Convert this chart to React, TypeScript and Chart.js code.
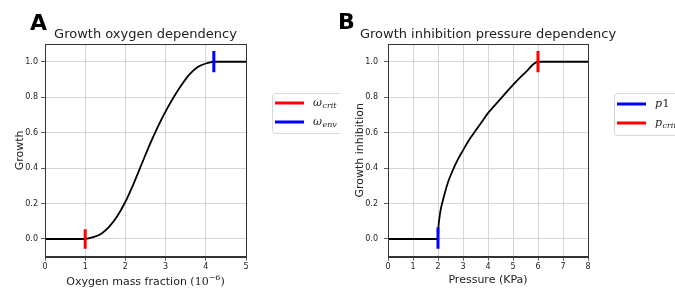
import { useEffect, useRef } from "react";
import { Chart, registerables } from "chart.js";

Chart.register(...registerables);

// ---- Panel A data: growth vs oxygen mass fraction (1e-6) ----
const oxygenX = [0, 0.5, 1.0, 1.2, 1.4, 1.6, 1.8, 2.0, 2.2, 2.4, 2.6, 2.8, 3.0, 3.2, 3.4, 3.6, 3.8, 4.0, 4.2, 4.6, 5.0];
const growthY = [0, 0, 0, 0.01, 0.03, 0.07, 0.13, 0.21, 0.31, 0.42, 0.53, 0.63, 0.72, 0.8, 0.87, 0.93, 0.97, 0.99, 1.0, 1.0, 1.0];
const oxygenTicks = [0, 1, 2, 3, 4, 5];
const omegaCritX = 1.0;
const omegaCritY = [-0.055, 0.055];
const omegaEnvX = 4.2;
const omegaEnvY = [0.94, 1.06];

// ---- Panel B data: growth inhibition vs pressure (KPa) ----
const pressureX = [0, 1, 2.0, 2.02, 2.05, 2.1, 2.2, 2.4, 2.6, 2.8, 3.0, 3.25, 3.5, 3.75, 4.0, 4.5, 5.0, 5.5, 6.0, 7.0, 8.0];
const inhibitionY = [0, 0, 0, 0.07, 0.11, 0.16, 0.22, 0.32, 0.39, 0.45, 0.5, 0.56, 0.61, 0.66, 0.71, 0.79, 0.87, 0.94, 1.0, 1.0, 1.0];
const pressureTicks = [0, 1, 2, 3, 4, 5, 6, 7, 8];
const p1X = 2.0;
const p1Y = [-0.055, 0.065];
const pCritX = 6.0;
const pCritY = [0.94, 1.06];

const yTicks = [0, 0.2, 0.4, 0.6, 0.8, 1.0];
const yRange = [-0.1, 1.1];

type LegendItem = { color: string; main: string; upright: string; sub: string };

type PanelProps = {
  width: number;
  letter: string;
  letterX: number;
  letterY: number;
  title: string;
  yTitle: string;
  xTitle: string;
  xTitleMath?: string;
  xMax: number;
  xTicks: number[];
  curveX: number[];
  curveY: number[];
  markers: { x: number; y: number[]; color: string }[];
  legend: LegendItem[];
  yAxisWidth: number;
  yTickPad: number;
  rightPad: number;
  legendBox: { x: number; y: number; w: number; h: number; lineX: number; textX: number; rows: number[] };
};

const TEXT = "#222";
const FRAME = "#333";
const SANS = "'DejaVu Sans', sans-serif";
const SERIF = "'DejaVu Serif', serif";

function Panel(props: PanelProps) {
  const ref = useRef<HTMLCanvasElement | null>(null);

  useEffect(() => {
    const canvas = ref.current;
    if (!canvas) return;

    const decor = {
      id: "decor",
      afterDraw(chart: any) {
        const { ctx, chartArea: a } = chart;
        ctx.save();
        // frame (top/right spines)
        ctx.strokeStyle = FRAME;
        ctx.lineWidth = 1;
        ctx.strokeRect(Math.round(a.left) + 0.5, Math.round(a.top) + 0.5, Math.round(a.right - a.left), Math.round(a.bottom - a.top));
        // title, centred on the plot area
        ctx.fillStyle = TEXT;
        ctx.font = `13px ${SANS}`;
        ctx.textAlign = "center";
        ctx.textBaseline = "alphabetic";
        ctx.fillText(props.title, (a.left + a.right) / 2, 37.5);
        // panel letter
        ctx.fillStyle = "#000";
        ctx.font = `bold 22px ${SANS}`;
        ctx.textAlign = "left";
        ctx.fillText(props.letter, props.letterX, props.letterY);
        // math x title
        if (props.xTitleMath) {
          const cx = (a.left + a.right) / 2;
          const y = 285;
          const part1 = props.xTitle + " ";
          ctx.font = `11px ${SANS}`;
          const w1 = ctx.measureText(part1).width;
          ctx.font = `11px ${SERIF}`;
          const w2 = ctx.measureText("(10").width;
          ctx.font = `8px ${SERIF}`;
          const w3 = ctx.measureText(props.xTitleMath).width;
          ctx.font = `11px ${SERIF}`;
          const w4 = ctx.measureText(")").width;
          let x = cx - (w1 + w2 + w3 + w4) / 2;
          ctx.fillStyle = TEXT;
          ctx.font = `11px ${SANS}`;
          ctx.fillText(part1, x, y);
          x += w1;
          ctx.font = `11px ${SERIF}`;
          ctx.fillText("(10", x, y);
          x += w2;
          ctx.font = `8px ${SERIF}`;
          ctx.fillText(props.xTitleMath, x, y - 5);
          x += w3;
          ctx.font = `11px ${SERIF}`;
          ctx.fillText(")", x, y);
        }
        // legend
        const L = props.legendBox;
        ctx.beginPath();
        const r = 3;
        ctx.moveTo(L.x + r, L.y);
        ctx.lineTo(L.x + L.w - r, L.y);
        ctx.arcTo(L.x + L.w, L.y, L.x + L.w, L.y + r, r);
        ctx.lineTo(L.x + L.w, L.y + L.h - r);
        ctx.arcTo(L.x + L.w, L.y + L.h, L.x + L.w - r, L.y + L.h, r);
        ctx.lineTo(L.x + r, L.y + L.h);
        ctx.arcTo(L.x, L.y + L.h, L.x, L.y + L.h - r, r);
        ctx.lineTo(L.x, L.y + r);
        ctx.arcTo(L.x, L.y, L.x + r, L.y, r);
        ctx.closePath();
        ctx.fillStyle = "rgba(255,255,255,0.9)";
        ctx.fill();
        ctx.strokeStyle = "#d8d8d8";
        ctx.lineWidth = 1;
        ctx.stroke();
        props.legend.forEach((item, i) => {
          const ry = L.y + L.rows[i];
          ctx.strokeStyle = item.color;
          ctx.lineWidth = 3;
          ctx.beginPath();
          ctx.moveTo(L.lineX, ry);
          ctx.lineTo(L.lineX + 29, ry);
          ctx.stroke();
          ctx.fillStyle = TEXT;
          let x = L.textX;
          ctx.font = `italic 11px ${SERIF}`;
          ctx.fillText(item.main, x, ry + 3);
          x += ctx.measureText(item.main).width;
          if (item.upright) {
            ctx.font = `11px ${SERIF}`;
            ctx.fillText(item.upright, x + 0.5, ry + 3);
            x += ctx.measureText(item.upright).width + 0.5;
          }
          if (item.sub) {
            ctx.font = `italic 8px ${SERIF}`;
            ctx.fillText(item.sub, x + 0.5, ry + 5);
          }
        });
        ctx.restore();
      },
    };

    const markerSets = props.markers.map((m) => ({
      data: m.y.map((v) => ({ x: m.x, y: v })),
      borderColor: m.color,
      borderWidth: 3,
      pointRadius: 0,
      borderCapStyle: "butt",
      fill: false,
    }));

    const chart = new Chart(canvas, {
      type: "line",
      data: {
        datasets: [
          ...markerSets,
          {
            data: props.curveX.map((x, i) => ({ x, y: props.curveY[i] })),
            borderColor: "#000",
            borderWidth: 1.8,
            pointRadius: 0,
            cubicInterpolationMode: "monotone",
            fill: false,
          },
        ] as any,
      },
      options: {
        responsive: false,
        animation: false,
        layout: { padding: { left: 0, right: props.rightPad, top: 44, bottom: 0 } },
        plugins: {
          legend: { display: false },
          tooltip: { enabled: false },
          title: { display: false },
        },
        scales: {
          x: {
            type: "linear",
            min: 0,
            max: props.xMax,
            afterBuildTicks: (s: any) => {
              s.ticks = props.xTicks.map((v) => ({ value: v }));
            },
            afterFit: (s: any) => {
              s.height = 31.3;
            },
            ticks: {
              color: TEXT,
              font: { family: SANS, size: 8 },
              padding: 1,
              maxRotation: 0,
              callback: (v: any) => String(v),
            },
            grid: { color: "#cccccc", lineWidth: 0.8, tickColor: FRAME, tickLength: 4 },
            border: { display: true, color: FRAME, width: 1 },
            title: {
              display: !props.xTitleMath,
              text: props.xTitle,
              color: TEXT,
              font: { family: SANS, size: 11 },
              padding: { top: 0, bottom: 1.4 },
            },
          },
          y: {
            type: "linear",
            min: yRange[0],
            max: yRange[1],
            afterBuildTicks: (s: any) => {
              s.ticks = yTicks.map((v) => ({ value: v }));
            },
            afterFit: (s: any) => {
              s.width = props.yAxisWidth;
            },
            ticks: {
              color: TEXT,
              font: { family: SANS, size: 8 },
              padding: props.yTickPad,
              callback: (v: any) => Number(v).toFixed(1),
            },
            grid: { color: "#cccccc", lineWidth: 0.8, tickColor: FRAME, tickLength: 4 },
            border: { display: true, color: FRAME, width: 1 },
            title: {
              display: true,
              text: props.yTitle,
              color: TEXT,
              font: { family: SANS, size: 11 },
              padding: { top: 13.4, bottom: 0 },
            },
          },
        },
      },
      plugins: [decor],
    });
    return () => chart.destroy();
  }, []);

  return <canvas ref={ref} width={props.width} height={288} style={{ display: "block", width: props.width, height: 288 }} />;
}

export default function App() {
  return (
    <div style={{ position: "fixed", left: 0, top: 0, width: 675, height: 288, background: "#fff", overflow: "hidden" }}>
      <div style={{ position: "absolute", left: 0, top: 0 }}>
        <Panel
          width={340}
          letter="A"
          letterX={30}
          letterY={30}
          title="Growth oxygen dependency"
          yTitle="Growth"
          xTitle="Oxygen mass fraction"
          xTitleMath="−6"
          xMax={5}
          xTicks={oxygenTicks}
          curveX={oxygenX}
          curveY={growthY}
          markers={[
            { x: omegaCritX, y: omegaCritY, color: "#ff0000" },
            { x: omegaEnvX, y: omegaEnvY, color: "#0000ff" },
          ]}
          legend={[
            { color: "#ff0000", main: "ω", upright: "", sub: "crit" },
            { color: "#0000ff", main: "ω", upright: "", sub: "env" },
          ]}
          yAxisWidth={45}
          yTickPad={3}
          rightPad={94}
          legendBox={{ x: 272.5, y: 93.5, w: 80, h: 40, lineX: 275, textX: 313, rows: [9.5, 28.5] }}
        />
      </div>
      <div style={{ position: "absolute", left: 340, top: 0 }}>
        <Panel
          width={335}
          letter="B"
          letterX={-2}
          letterY={28.5}
          title="Growth inhibition pressure dependency"
          yTitle="Growth inhibition"
          xTitle="Pressure (KPa)"
          xMax={8}
          xTicks={pressureTicks}
          curveX={pressureX}
          curveY={inhibitionY}
          markers={[
            { x: p1X, y: p1Y, color: "#0000ff" },
            { x: pCritX, y: pCritY, color: "#ff0000" },
          ]}
          legend={[
            { color: "#0000ff", main: "p", upright: "1", sub: "" },
            { color: "#ff0000", main: "p", upright: "", sub: "crit" },
          ]}
          yAxisWidth={48}
          yTickPad={6}
          rightPad={87}
          legendBox={{ x: 274.5, y: 93.5, w: 80, h: 42, lineX: 277, textX: 315, rows: [10.5, 29.5] }}
        />
      </div>
    </div>
  );
}
